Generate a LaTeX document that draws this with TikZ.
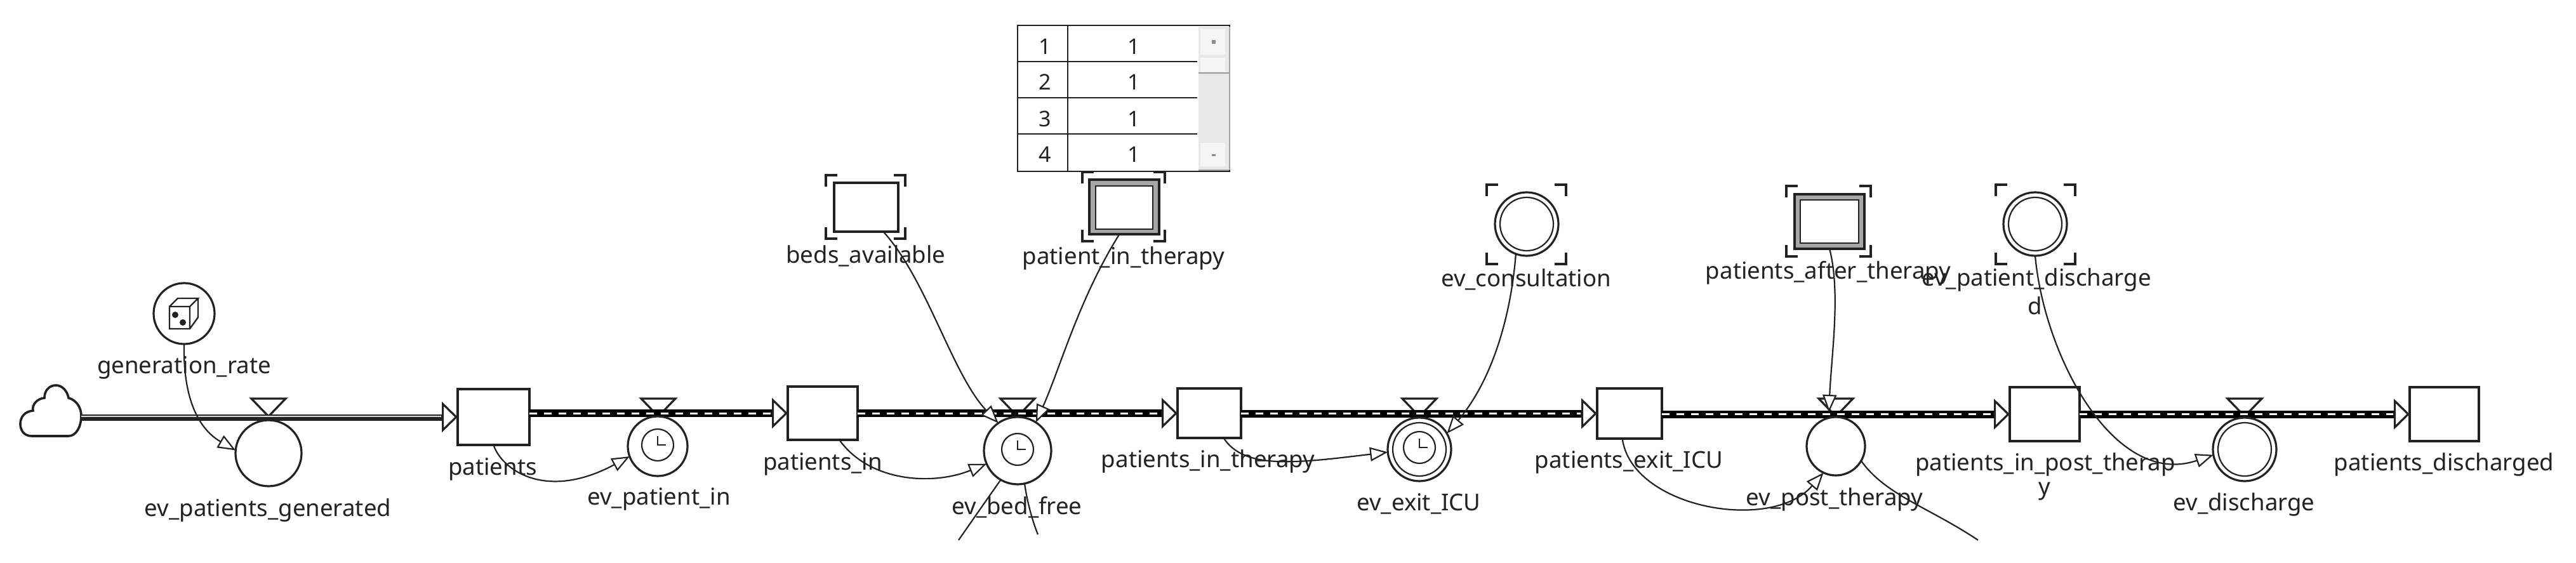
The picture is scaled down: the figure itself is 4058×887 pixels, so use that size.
\documentclass[tikz,border=0pt]{standalone}
\usepackage{fontspec}
\setmainfont{Noto Sans}
\usetikzlibrary{arrows.meta}
\definecolor{ink}{HTML}{222222}
\tikzset{
 every node/.style={inner sep=0pt,outer sep=0pt},
 lab/.style={font=\fontsize{18.3}{18.3}\selectfont,text=ink,anchor=center},
 stock/.style={draw=ink,line width=1.9pt,fill=white,rectangle},
 ev/.style={draw=ink,line width=1.6pt,fill=white,circle},
 inring/.style={draw=ink,line width=1.1pt,circle},
 valve/.style={draw=ink,line width=1.6pt,fill=white},
 band/.style={line width=6pt,black},
 dashw/.style={line width=1.5pt,white,dash pattern=on 6pt off 5.5pt},
 head/.style={draw=ink,line width=1.1pt,-{Triangle[open,fill=white,length=14pt,width=11pt]}},
 tipflow/.style={draw=ink,line width=1.6pt,-{Triangle[open,fill=white,length=12.5pt,width=24pt]}},
 brk/.style={draw=ink,line width=1.6pt},
 plainl/.style={draw=ink,line width=1.1pt},
 cell/.style={font=\fontsize{17}{17}\selectfont,text=ink},
 arrayouter/.style={stock,fill=white!65!black},
 arrayinner/.style={draw=ink,line width=1.3pt,fill=white},
}
\newcommand{\brackets}[4]{% x1 y1 x2 y2
 \draw[brk] (#1+18,#2)--(#1,#2)--(#1,#2+18);
 \draw[brk] (#3-18,#2)--(#3,#2)--(#3,#2+18);
 \draw[brk] (#1+18,#4)--(#1,#4)--(#1,#4-18);
 \draw[brk] (#3-18,#4)--(#3,#4)--(#3,#4-18);}
\newcommand{\clockface}[2]{%
 \node[inring,minimum size=25pt] (clk#1) at (#2) {};
 \draw[draw=ink,line width=1.2pt] ([yshift=7pt]#2) -- (#2) -- ([xshift=6.5pt]#2);}
\newcommand{\flowline}[2]{%
 \draw[band,shorten >=10pt] (#1.east |- #2.west) -- (#2.west);
 \draw[dashw,shorten >=12pt] (#1.east |- #2.west) -- (#2.west);
 \draw[tipflow] ([xshift=-13pt]#2.west) -- (#2.west);}
\begin{document}
\begin{tikzpicture}[x=0.5pt,y=-0.5pt]
\useasboundingbox (0,0) rectangle (4058,887);
% stocks
\node[stock,minimum width=56.5pt,minimum height=44pt] (patients) at (777.5,657) {};
\node[stock,minimum width=55pt,minimum height=42pt] (pin) at (1296,651) {};
\node[stock,minimum width=50pt,minimum height=39pt] (ptherapy) at (1905,651) {};
\node[stock,minimum width=51pt,minimum height=39.5pt] (pexit) at (2567,651.5) {};
\node[stock,minimum width=55pt,minimum height=42.5pt] (ppost) at (3221,652.5) {};
\node[stock,minimum width=54.5pt,minimum height=42.5pt] (pdis) at (3850.5,652.5) {};
% valves
\foreach \n/\x in {v1/423,v2/1037,v3/1603,v4/2236,v5/2892,v6/3536}{
 \draw[valve] (\x-27,628) -- (\x+27,628) -- (\x,656) -- cycle;}
% cloud
\coordinate (cloudend) at (128,657);
\draw[draw=ink,line width=1.8pt,fill=white] (50,687)
 .. controls (38,687) and (32,678) .. (32,668)
 .. controls (32,656) and (40,648) .. (52,647)
 .. controls (50,638) and (58,628) .. (70,627)
 .. controls (70,615) and (78,607) .. (88,607)
 .. controls (98,607) and (106,616) .. (108,627)
 .. controls (120,630) and (128,642) .. (128,655)
 .. controls (128,672) and (120,687) .. (108,687) -- cycle;
% flows
\draw[line width=5pt,ink,shorten >=10pt] (cloudend|-0,658) -- (patients.west|-0,658);
\draw[line width=1.2pt,white!85!black,shorten >=10pt] (cloudend|-0,656) -- (patients.west|-0,656);
\draw[tipflow] ([xshift=-13pt]patients.west) -- (patients.west);
\flowline{patients}{pin}
\flowline{pin}{ptherapy}
\flowline{ptherapy}{pexit}
\flowline{pexit}{ppost}
\flowline{ppost}{pdis}
% events
\node[ev,minimum size=52pt] (evgen) at (423,714) {};
\node[ev,minimum size=47pt] (evin) at (1036,703) {};
\node[ev,minimum size=53pt] (evbed) at (1603,710) {};
\node[ev,minimum size=50pt] (evexit) at (2236,708) {};
\node[inring,minimum size=42pt] (evexitb) at (2236,708) {};
\node[ev,minimum size=46pt] (evpost) at (2892,703) {};
\node[ev,minimum size=50pt] (evdis) at (3536,708) {};
\node[inring,minimum size=42pt] (evdisb) at (3536,708) {};
\clockface{a}{1036,701}
\clockface{b}{1603,708}
\clockface{c}{2236,705}
% generation rate
\node[ev,minimum size=48pt] (genrate) at (290,494) {};
\draw[draw=ink,line width=1.2pt,fill=white] (267,483)--(267,518)--(299,518)--(299,483)--cycle (267,483)--(280,470)--(312,470)--(299,483) (312,470)--(312,500)--(299,518);
\fill[ink] (276,496) circle (2.5pt) (288,508) circle (2.5pt);
% table
\node[draw=ink,line width=1.1pt,fill=white,minimum width=167pt,minimum height=115pt] (tbl) at (1770,155) {};
\fill[white!91!black] (1888,42) rectangle (1936,268);
\fill[white!96!black] (1891,46) rectangle (1930,86);
\fill[white!96!black] (1891,91) rectangle (1930,113);
\fill[white!96!black] (1891,225) rectangle (1930,262);
\draw[white!60!black,line width=1.2pt] (1888,115) -- (1936,115);
\draw[white!65!black,line width=1.4pt] (1937,42) -- (1937,268);
\draw[white!65!black,line width=1.2pt] (1888,268) -- (1936,268);
\draw[draw=ink,line width=1pt] (1682,40) -- (1682,270);
\foreach \yy in {97,154,211}{\draw[draw=ink,line width=1.1pt] (1603,\yy) -- (1886,\yy);}
\foreach \yy/\k in {73/1,129/2,187/3,243/4}{
 \node[cell] (r\k a) at (1646,\yy) {\k};
 \node[cell] (r\k b) at (1786,\yy) {1};}
\fill[white!55!black] (1909,63) rectangle (1915,69);
\fill[white!55!black] (1909,243) rectangle (1915,246);
% shadow variables
\node[stock,minimum width=50.5pt,minimum height=38.5pt] (beds) at (1364.5,326.5) {};
\brackets{1301}{276}{1426}{376}
\node[arrayouter,minimum width=55pt,minimum height=43pt] (pth) at (1771,326) {};
\node[arrayinner,minimum width=45pt,minimum height=34pt] (pthb) at (1771,327) {};
\brackets{1705}{271}{1835}{380}
\node[ev,minimum size=50pt] (cons) at (2405,353) {};
\node[inring,minimum size=42pt] (consb) at (2405,353) {};
\brackets{2342}{291}{2467}{416}
\node[arrayouter,minimum width=55pt,minimum height=43pt] (pafter) at (2882,349) {};
\node[arrayinner,minimum width=46pt,minimum height=34pt] (pafterb) at (2882,349) {};
\brackets{2814}{293}{2947}{404}
\node[ev,minimum size=50pt] (pdisc) at (3206,353) {};
\node[inring,minimum size=42pt] (pdiscb) at (3206,353) {};
\brackets{3144}{291}{3269}{416}
% connectors
\draw[head] (genrate.south) .. controls (288,640) and (320,680) .. (evgen.175);
\draw[head] (patients.south) .. controls (790,740) and (860,790) .. (evin.200);
\draw[head] (pin.302) .. controls (1370,760) and (1470,765) .. (evbed.203);
\draw[head] (beds.305) .. controls (1460,440) and (1500,590) .. (evbed.125);
\draw[head] (pth.260) .. controls (1700,470) and (1670,580) .. (evbed.57);
\draw[head] (ptherapy.300) .. controls (1960,740) and (2040,730) .. (evexit.185);
\draw[head] (cons.250) .. controls (2380,500) and (2350,600) .. (evexit.30);
\draw[head] (pexit.254) .. controls (2570,800) and (2790,840) .. (evpost.245);
\draw[head] (pafter.south) .. controls (2900,460) and (2885,560) .. (2881,650);
\draw[head] (pdisc.south) .. controls (3220,560) and (3330,770) .. (evdis.190);
% stray lines
\coordinate (s1) at (1510,851);
\coordinate (s2) at (1635,842);
\coordinate (s3) at (3116,851);
\draw[plainl] (evbed.240) .. controls (1556,785) and (1535,815) .. (s1);
\draw[plainl] (evbed.282) .. controls (1618,790) and (1626,820) .. (s2);
\draw[plainl] (evpost.-30) .. controls (2970,780) and (3040,800) .. (s3);
% labels
\node[lab] (l1) at (290,579) {generation\_rate};
\node[lab] (l2) at (422,804) {ev\_patients\_generated};
\node[lab] (l3) at (776,739) {patients};
\node[lab] (l4) at (1038,786) {ev\_patient\_in};
\node[lab] (l5) at (1296,731) {patients\_in};
\node[lab] (l6) at (1364,403) {beds\_available};
\node[lab] (l7) at (1770,407) {patient\_in\_therapy};
\node[lab] (l8) at (1602,799) {ev\_bed\_free};
\node[lab] (l9) at (1903,727) {patients\_in\_therapy};
\node[lab] (l10) at (2235,794) {ev\_exit\_ICU};
\node[lab] (l11) at (2404,440) {ev\_consultation};
\node[lab] (l12) at (2566,728) {patients\_exit\_ICU};
\node[lab] (l13) at (2880,430) {patients\_after\_therapy};
\node[lab] (l14) at (2890,787) {ev\_post\_therapy};
\node[lab] (l15) at (3208,441) {ev\_patient\_discharge};
\node[lab] (l16) at (3206,482) {d};
\node[lab] (l17) at (3222,732) {patients\_in\_post\_therap};
\node[lab] (l18) at (3221,774) {y};
\node[lab] (l19) at (3535,795) {ev\_discharge};
\node[lab] (l20) at (3850,732) {patients\_discharged};
\end{tikzpicture}
\end{document}
